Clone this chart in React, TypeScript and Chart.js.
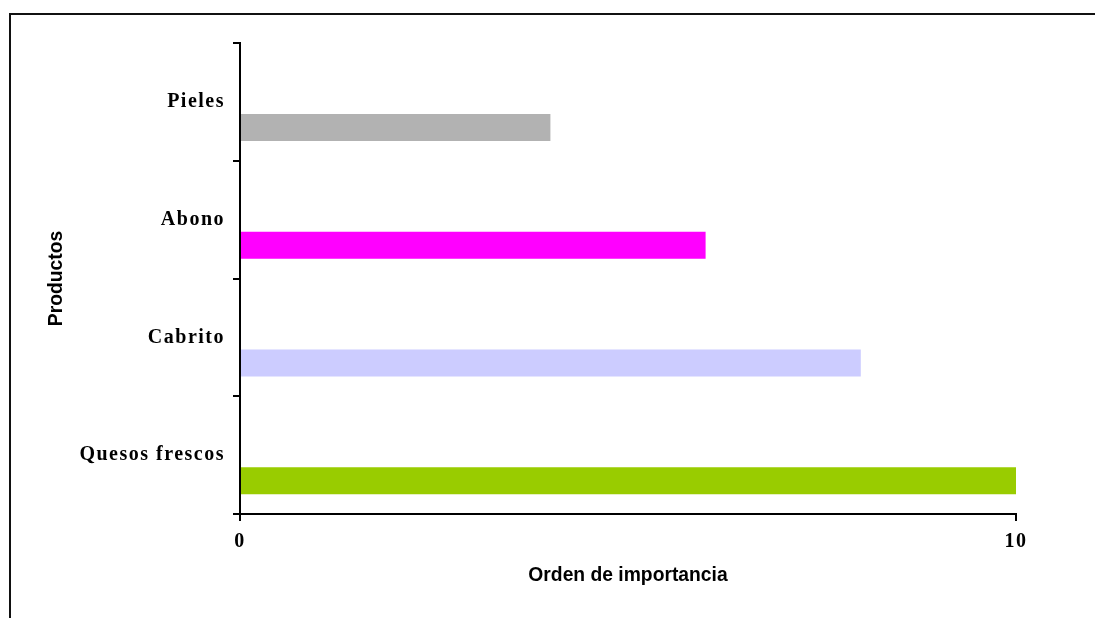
import React, { useEffect, useRef } from "react";
import { Chart, registerables } from "chart.js";

Chart.register(...registerables);

const categories = ["Pieles", "Abono", "Cabrito", "Quesos frescos"];
const importance = [4, 6, 8, 10];
const barColors = ["#B2B2B2", "#FF00FF", "#CCCCFF", "#99CC00"];
const emptySeries: (number | null)[] = [null, null, null, null];
const xTickValues = [0, 10];
const xAxisTitle = "Orden de importancia";
const yAxisTitle = "Productos";

const serifFont = "'Liberation Serif', 'Times New Roman', serif";
const sansFont = "'Liberation Sans', Arial, sans-serif";

const framePlugin = {
  id: "frame",
  beforeDraw(chart: any) {
    const ctx = chart.ctx;
    ctx.save();
    ctx.fillStyle = "#ffffff";
    ctx.fillRect(0, 0, chart.width, chart.height);
    ctx.strokeStyle = "#111111";
    ctx.lineWidth = 2;
    ctx.strokeRect(10, 14, chart.width + 50, chart.height + 50);
    ctx.restore();
  },
};

const spacingPlugin = {
  id: "tickSpacing",
  afterDatasetsDraw(chart: any) {
    chart.ctx.letterSpacing = "1.5px";
  },
  afterDraw(chart: any) {
    chart.ctx.letterSpacing = "0px";
  },
};

export default function App() {
  const ref = useRef<HTMLCanvasElement | null>(null);

  useEffect(() => {
    if (!ref.current) return;
    const chart = new Chart(ref.current, {
      type: "bar",
      data: {
        labels: categories,
        datasets: [
          {
            label: "",
            data: emptySeries,
            backgroundColor: "#ffffff",
          },
          {
            label: xAxisTitle,
            data: importance,
            backgroundColor: barColors,
            borderWidth: 0,
          },
        ],
      },
      options: {
        indexAxis: "y",
        responsive: false,
        animation: false,
        datasets: {
          bar: {
            categoryPercentage: 0.87,
            barPercentage: 0.527,
          },
        },
        layout: {
          padding: { left: 0, top: 43, right: 79, bottom: 0 },
        },
        plugins: {
          legend: { display: false },
          tooltip: { enabled: false },
          title: { display: false },
        },
        scales: {
          x: {
            type: "linear",
            min: 0,
            max: 10,
            afterBuildTicks: (scale: any) => {
              scale.ticks = xTickValues.map((v) => ({ value: v }));
            },
            afterFit: (scale: any) => {
              scale.height = 104;
            },
            grid: {
              display: true,
              drawOnChartArea: false,
              drawTicks: true,
              tickLength: 7,
              color: "#000000",
              lineWidth: 2,
            },
            border: { display: true, color: "#000000", width: 2, z: 1 },
            ticks: {
              z: 1,
              padding: 9,
              color: "#000000",
              font: { family: serifFont, size: 20, weight: "bold" },
            },
            title: {
              display: true,
              text: xAxisTitle,
              color: "#000000",
              font: { family: sansFont, size: 19.3, weight: "bold" },
              padding: { top: 0, bottom: 31 },
            },
          },
          y: {
            type: "category",
            afterFit: (scale: any) => {
              scale.width = 240;
            },
            grid: {
              display: true,
              drawOnChartArea: false,
              drawTicks: true,
              tickLength: 7,
              color: "#000000",
              lineWidth: 2,
            },
            border: { display: true, color: "#000000", width: 2, z: 1 },
            ticks: {
              z: 1,
              padding: 8,
              color: "#000000",
              font: { family: serifFont, size: 20, weight: "bold" },
            },
            title: {
              display: true,
              text: yAxisTitle,
              color: "#000000",
              font: { family: sansFont, size: 19.3, weight: "bold" },
              padding: { top: 45.4, bottom: 0 },
            },
          },
        },
      },
      plugins: [framePlugin, spacingPlugin],
    } as any);
    return () => chart.destroy();
  }, []);

  return (
    <div style={{ position: "fixed", left: 0, top: 0, width: 1095, height: 618, overflow: "hidden", background: "#fff" }}>
      <canvas ref={ref} width={1095} height={618} style={{ display: "block", width: 1095, height: 618 }} />
    </div>
  );
}
